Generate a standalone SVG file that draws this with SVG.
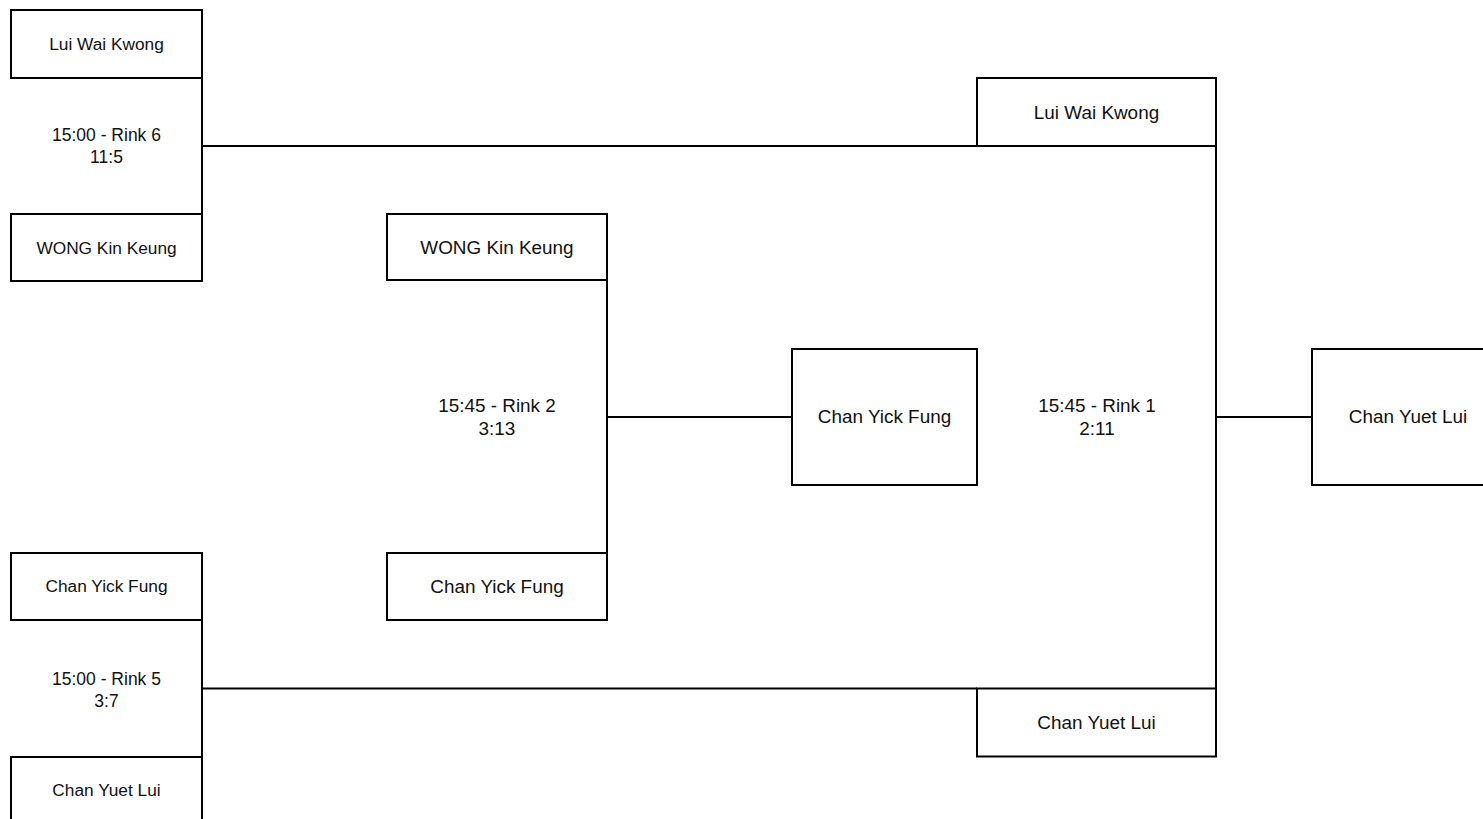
<svg xmlns="http://www.w3.org/2000/svg" width="1483" height="819" viewBox="0 0 1483 819">
<style>
.box{fill:#fff;stroke:#000;stroke-width:2}
.c{fill:none;stroke:#000;stroke-width:2}
text{font-family:"Liberation Sans",Arial,sans-serif;fill:#111;text-anchor:middle}
.s{font-size:17.3px}
.m{font-size:17.5px}
.l{font-size:18.9px}
</style>
<rect width="1483" height="819" fill="#fff"/>
<g id="connectors">
<path class="c" d="M202 78V214M202 146H977"/>
<path class="c" d="M202 620V757M202 688.5H977"/>
<path class="c" d="M607 280V553M607 417H792"/>
<path class="c" d="M1216 146V689M1216 417H1312"/>
</g>
<g id="label-r6"><text class="m" x="106.5" y="141">15:00 - Rink 6</text><text class="m" x="106.5" y="163">11:5</text></g>
<g id="label-r5"><text class="m" x="106.5" y="685">15:00 - Rink 5</text><text class="m" x="106.5" y="707">3:7</text></g>
<g id="label-r2"><text class="l" x="497" y="412">15:45 - Rink 2</text><text class="l" x="497" y="435">3:13</text></g>
<g id="label-r1"><text class="l" x="1097" y="412">15:45 - Rink 1</text><text class="l" x="1097" y="435">2:11</text></g>
<g id="n-l1"><rect class="box" x="11" y="10" width="191" height="68"/><text class="s" x="106.5" y="50">Lui Wai Kwong</text></g>
<g id="n-l2"><rect class="box" x="11" y="214" width="191" height="67"/><text class="s" x="106.5" y="254">WONG Kin Keung</text></g>
<g id="n-l3"><rect class="box" x="11" y="553" width="191" height="67"/><text class="s" x="106.5" y="592">Chan Yick Fung</text></g>
<g id="n-l4"><rect class="box" x="11" y="757" width="191" height="70"/><text class="s" x="106.5" y="796">Chan Yuet Lui</text></g>
<g id="n-m1"><rect class="box" x="387" y="214" width="220" height="66"/><text class="l" x="497" y="254">WONG Kin Keung</text></g>
<g id="n-m2"><rect class="box" x="387" y="553" width="220" height="67"/><text class="l" x="497" y="593">Chan Yick Fung</text></g>
<g id="n-c"><rect class="box" x="792" y="349" width="185" height="136"/><text class="l" x="884.5" y="423">Chan Yick Fung</text></g>
<g id="n-r1"><rect class="box" x="977" y="78" width="239" height="68"/><text class="l" x="1096.5" y="119">Lui Wai Kwong</text></g>
<g id="n-r2"><rect class="box" x="977" y="688.5" width="239" height="68"/><text class="l" x="1096.5" y="729">Chan Yuet Lui</text></g>
<g id="n-f"><rect class="box" x="1312" y="349" width="180" height="136"/><text class="l" x="1408" y="423">Chan Yuet Lui</text></g>
</svg>
